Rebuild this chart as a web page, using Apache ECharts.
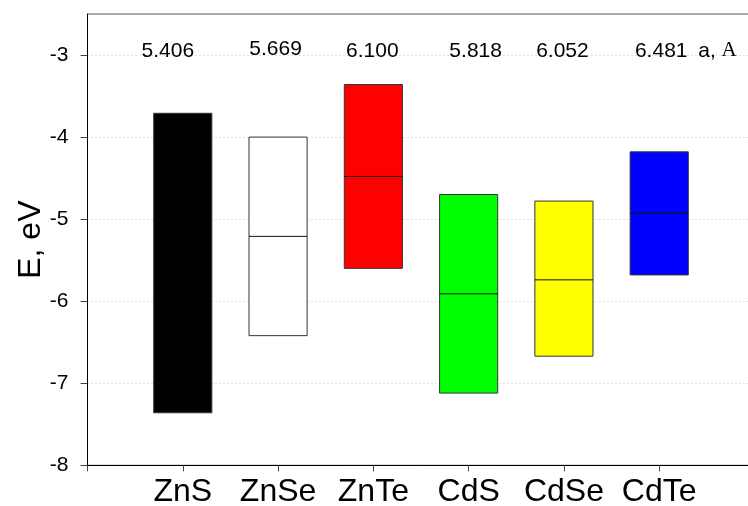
<!DOCTYPE html>
<html>
<head>
<meta charset="utf-8">
<title>Band edges of II-VI semiconductors</title>
<script src="https://cdn.jsdelivr.net/npm/echarts@6/dist/echarts.min.js"></script>
<style>
  html, body { margin: 0; padding: 0; background: #fff; }
  #chart { width: 748px; height: 506px; }
</style>
</head>
<body>
<div id="chart"></div>
<script>
// Compounds along the x axis
const compounds = ['ZnS', 'ZnSe', 'ZnTe', 'CdS', 'CdSe', 'CdTe'];
// Lattice constants a, A
const latticeA = ['5.406', '5.669', '6.100', '5.818', '6.052', '6.481'];
// Band edges, eV: bottom of the box, inner line, top of the box
const lowerEdge = [-7.36, -6.42, -5.60, -7.12, -6.67, -5.68];
const midLevel  = [null, -5.21, -4.48, -5.91, -5.74, -4.93];
const upperEdge = [-3.71, -4.00, -3.36, -4.70, -4.78, -4.18];
// Y axis ticks
const yTicks = [-8, -7, -6, -5, -4, -3];

// Drawing styles
const boxColors = ['#000000', '#ffffff', '#ff0000', '#00ff00', '#ffff00', '#0000ff'];
const boxHalfWidth = 0.305;
const labelLevel = -2.95;
const labelShiftX = [-15, -2.5, -1, 7, -1.5, 2];
const labelShiftY = [0, -2, 0, 0, 0, 0];
const fontFamily = 'Liberation Sans, Arial, sans-serif';

const boxData = compounds.map((c, i) => [i + 1, lowerEdge[i], midLevel[i], upperEdge[i]]);
const labelData = compounds.map((c, i) => [i + 1, latticeA[i]]);

const chart = echarts.init(document.getElementById('chart'), null, { renderer: 'canvas' });

chart.setOption({
  animation: false,
  backgroundColor: '#ffffff',
  grid: {
    left: 87.5,
    top: 14,
    width: 667,
    height: 451.3,
    outerBoundsMode: 'none',
    containLabel: false,
    show: true,
    borderColor: '#555',
    borderWidth: 1,
    backgroundColor: 'transparent'
  },
  xAxis: {
    type: 'value',
    min: 0,
    max: 7,
    interval: 1,
    axisLine: { show: true, lineStyle: { color: '#000', width: 1 } },
    axisTick: { show: true, length: 6, lineStyle: { color: '#444' } },
    axisLabel: {
      margin: 11,
      fontSize: 32,
      fontFamily: fontFamily,
      color: '#000',
      formatter: v => compounds[v - 1] || ''
    },
    splitLine: { show: false }
  },
  yAxis: {
    type: 'value',
    min: -8,
    max: -2.5,
    interval: 1,
    name: 'E, eV',
    nameLocation: 'middle',
    nameGap: 40,
    nameMoveOverlap: false,
    nameTextStyle: { fontSize: 32, fontFamily: fontFamily, color: '#000' },
    axisLine: { show: true, lineStyle: { color: '#000', width: 1 } },
    axisTick: { show: true, length: 7, customValues: yTicks, lineStyle: { color: '#444' } },
    axisLabel: {
      margin: 19,
      fontSize: 21,
      fontFamily: fontFamily,
      color: '#000',
      customValues: yTicks
    },
    splitLine: { show: true, lineStyle: { color: '#c0c0c0', type: [1, 3], width: 1 } }
  },
  series: [
    {
      type: 'custom',
      data: boxData,
      encode: { x: 0, y: [1, 3] },
      renderItem: function (params, api) {
        const x = api.value(0);
        const lo = api.value(1);
        const mid = api.value(2);
        const hi = api.value(3);
        const p1 = api.coord([x - boxHalfWidth, hi]);
        const p2 = api.coord([x + boxHalfWidth, lo]);
        const children = [{
          type: 'rect',
          shape: { x: p1[0], y: p1[1], width: p2[0] - p1[0], height: p2[1] - p1[1] },
          style: { fill: boxColors[params.dataIndex], stroke: '#333', lineWidth: 1 }
        }];
        if (mid !== null && !isNaN(mid)) {
          const m1 = api.coord([x - boxHalfWidth, mid]);
          const m2 = api.coord([x + boxHalfWidth, mid]);
          children.push({
            type: 'line',
            shape: { x1: m1[0], y1: m1[1], x2: m2[0], y2: m2[1] },
            style: { stroke: '#111', lineWidth: 1 }
          });
        }
        return { type: 'group', children: children };
      },
      z: 3
    },
    {
      type: 'custom',
      data: labelData,
      encode: { x: 0 },
      renderItem: function (params, api) {
        const i = params.dataIndex;
        const x = api.value(0);
        const p = api.coord([x, labelLevel]);
        const cx = p[0] + labelShiftX[i];
        const cy = p[1] + labelShiftY[i];
        const children = [{
          type: 'text',
          x: cx,
          y: cy,
          style: {
            text: latticeA[i],
            fontSize: 21,
            fontFamily: fontFamily,
            fill: '#000',
            align: 'center',
            verticalAlign: 'middle'
          }
        }];
        if (i === compounds.length - 1) {
          children.push({
            type: 'text',
            x: cx + 37,
            y: cy,
            style: {
              rich: {
                a: { fontSize: 21, fontFamily: fontFamily, fill: '#000' },
                u: { fontSize: 21, fontFamily: 'Liberation Serif, Times New Roman, serif', fill: '#000' }
              },
              text: '{a|a, }{u|A}',
              align: 'left',
              verticalAlign: 'middle'
            }
          });
        }
        return { type: 'group', children: children };
      },
      z: 4
    }
  ]
});
</script>
</body>
</html>
